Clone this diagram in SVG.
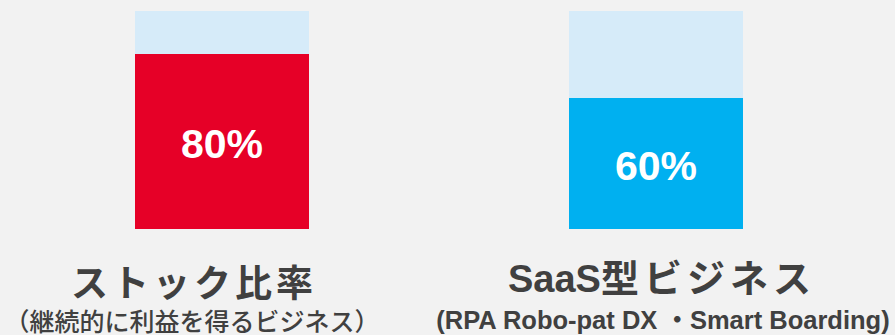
<svg xmlns="http://www.w3.org/2000/svg" width="895" height="335" viewBox="0 0 895 335">
<style>
.bg{fill:#f2f2f2}
.empty{fill:#d6ebf9}
.pct{font-family:"Liberation Sans","Noto Sans CJK JP",sans-serif;font-weight:bold;font-size:41px;fill:#ffffff;text-anchor:middle}
.title{font-family:"Noto Sans CJK JP",sans-serif;font-weight:bold;font-size:37px;fill:#404040;text-anchor:middle}
.title2{font-family:"Liberation Sans","Noto Sans CJK JP",sans-serif;font-weight:bold;font-size:38px;fill:#404040;text-anchor:middle}
.sub{font-family:"Noto Sans CJK JP",sans-serif;font-weight:500;font-size:25px;fill:#404040;text-anchor:middle}
.sub2{font-family:"Liberation Sans","Noto Sans CJK JP",sans-serif;font-weight:bold;font-size:25.5px;fill:#404040;text-anchor:middle}
</style>
<rect class="bg" x="0" y="0" width="895" height="335"/>
<g id="stock">
<rect class="empty" x="135" y="11" width="174" height="43"/>
<rect x="135" y="54" width="174" height="175" fill="#e60027"/>
<text class="pct" x="222" y="158">80%</text>
<text class="title" x="194" y="297" letter-spacing="4">ストック比率</text>
<text class="sub" x="192" y="331">（継続的に利益を得るビジネス）</text>
</g>
<g id="saas">
<rect class="empty" x="569" y="11" width="174" height="87"/>
<rect x="569" y="98" width="174" height="131" fill="#00b0f0"/>
<text class="pct" x="656" y="180">60%</text>
<text class="title2" x="662" y="292">SaaS<tspan letter-spacing="5">型ビジネス</tspan></text>
<text class="sub2" x="663" y="329">(RPA Robo-pat DX ・Smart Boarding)</text>
</g>
</svg>
